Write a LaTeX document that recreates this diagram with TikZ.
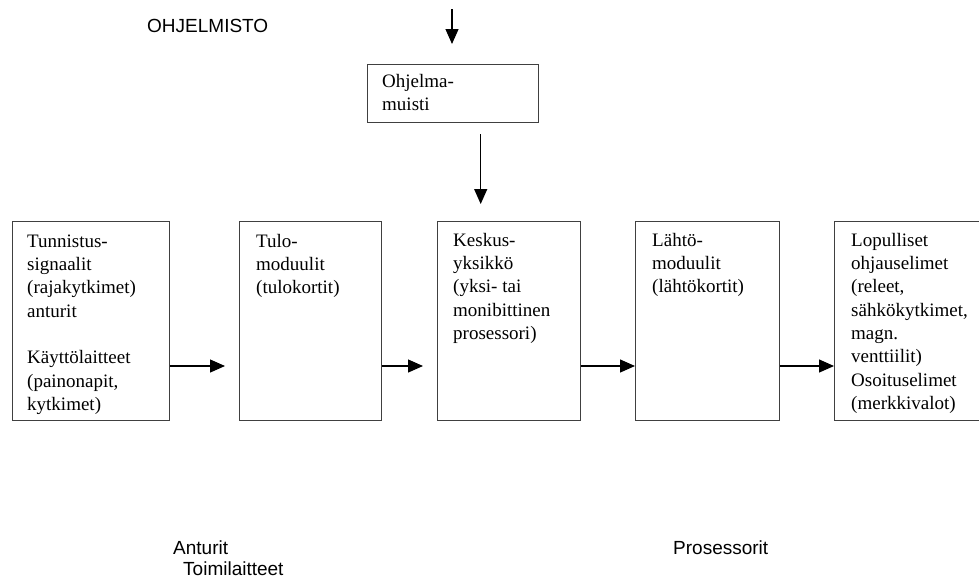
\documentclass[tikz,border=0pt]{standalone}
\usepackage{fontspec}
\setmainfont{Liberation Serif}
\newfontfamily\labelfont{Liberation Sans}
\usetikzlibrary{arrows.meta}
\begin{document}
\begin{tikzpicture}[x=1pt,y=-1pt,
  boxshape/.style={draw=black!75,line width=1.4pt,rectangle,inner sep=0pt,anchor=north west},
  boxtext/.style={anchor=north west,inner xsep=16pt,inner ysep=0pt,align=left,
     font=\fontsize{19}{23.3}\selectfont},
  lbl/.style={anchor=base west,inner sep=0pt,font=\labelfont\fontsize{19}{22}\selectfont},
  arr/.style={draw=black,line width=1.3pt,-{Triangle[length=15pt,width=13pt]}}]
\useasboundingbox (0,0) rectangle (979,579);
\clip (0,0) rectangle (979,579);

% boxes
\node[boxshape,minimum width=171pt,minimum height=58pt] (B0) at (367,64) {};
\node[boxshape,minimum width=157pt,minimum height=199pt] (B1) at (12,221) {};
\node[boxshape,minimum width=142pt,minimum height=199pt] (B2) at (239,221) {};
\node[boxshape,minimum width=143pt,minimum height=199pt] (B3) at (437,221) {};
\node[boxshape,minimum width=144pt,minimum height=199pt] (B4) at (635,221) {};
\node[boxshape,minimum width=160pt,minimum height=199pt] (B5) at (834,221) {};

% box texts
\node[boxtext,inner xsep=15pt] (T0) at (B0.north west) {\rule{0pt}{23pt}Ohjelma-\\muisti};
\node[boxtext,inner xsep=15pt] (T1) at (B1.north west) {\rule{0pt}{26pt}Tunnistus-\\signaalit\\(rajakytkimet)\\anturit\\[23.3pt]Käyttölaitteet\\(painonapit,\\kytkimet)};
\node[boxtext,inner xsep=17pt] (T2) at (B2.north west) {\rule{0pt}{26pt}Tulo-\\moduulit\\(tulokortit)};
\node[boxtext] (T3) at (B3.north west) {\rule{0pt}{25pt}Keskus-\\yksikkö\\(yksi- tai\\monibittinen\\prosessori)};
\node[boxtext,inner xsep=17pt] (T4) at (B4.north west) {\rule{0pt}{25pt}Lähtö-\\moduulit\\(lähtökortit)};
\node[boxtext,inner xsep=17pt] (T5) at (B5.north west) {\rule{0pt}{25pt}Lopulliset\\ohjauselimet\\(releet,\\sähkökytkimet,\\magn.\\venttiilit)\\Osoituselimet\\(merkkivalot)};

% labels
\node[lbl] (L0) at (147,32) {OHJELMISTO};
\node[lbl] (L1) at (173,554) {Anturit};
\node[lbl] (L2) at (183,575) {Toimilaitteet};
\node[lbl] (L3) at (673,554) {Prosessorit};

% arrows
\coordinate (top) at (452,9);
\coordinate (ar) at (0,366);
\draw[arr] (top) -- ([yshift=20pt]top |- B0.north);
\draw[arr] ([xshift=27.5pt,yshift=-11pt]B0.south) -- ([xshift=-28.5pt,yshift=17pt]B3.north);
\draw[arr] (B1.east |- ar) -- ([xshift=-14pt]B2.west |- ar);
\draw[arr] (B2.east |- ar) -- ([xshift=-14pt]B3.west |- ar);
\draw[arr] (B3.east |- ar) -- (B4.west |- ar);
\draw[arr] (B4.east |- ar) -- (B5.west |- ar);
\end{tikzpicture}
\end{document}
